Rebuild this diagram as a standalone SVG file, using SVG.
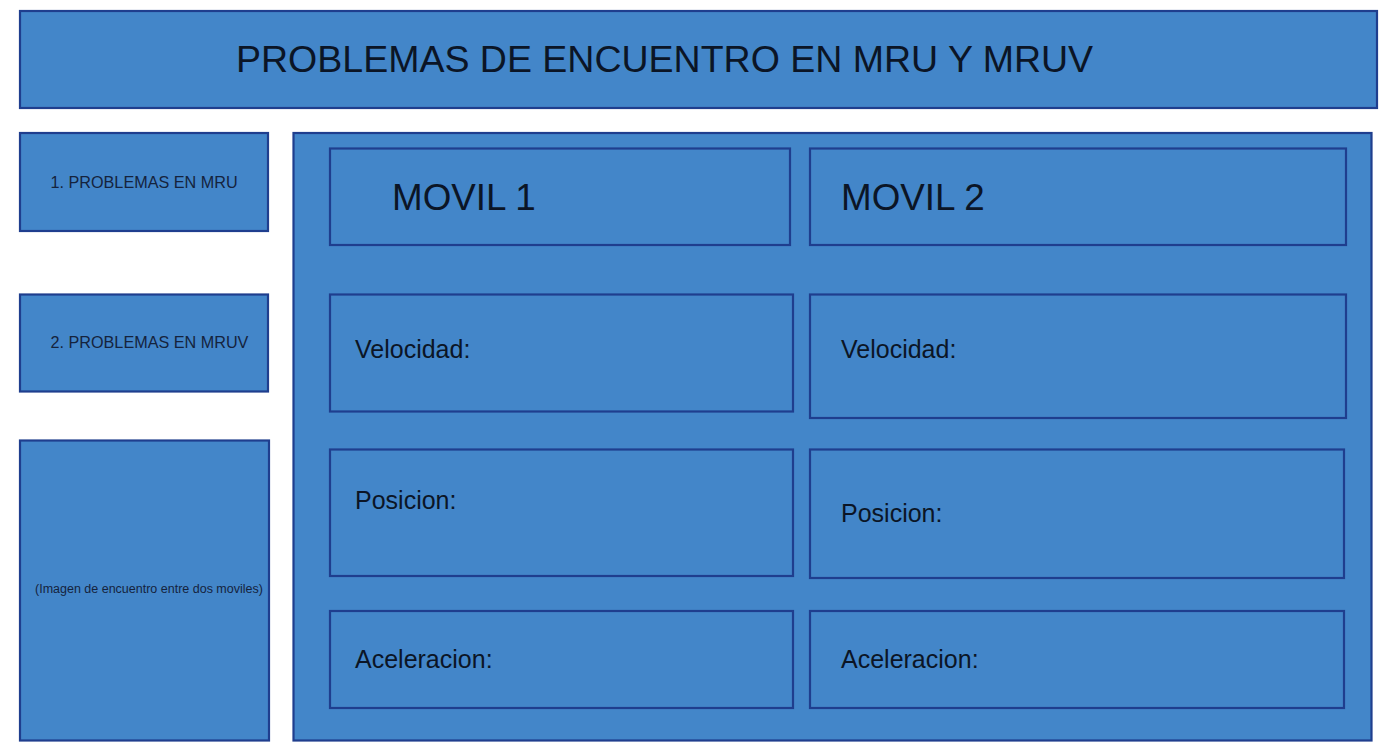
<svg xmlns="http://www.w3.org/2000/svg" width="1382" height="751" viewBox="0 0 1382 751">
<style>
.box{fill:#4386C9;stroke:#1F3E8E;stroke-width:2.2}
.t{font-family:"Liberation Sans",Arial,sans-serif;fill:#0b1526}
.s{font-family:"Liberation Sans",Arial,sans-serif;fill:#15233d}
.l{font-size:25px}
</style>
<rect width="1382" height="751" fill="#ffffff"/>
<g id="title"><rect class="box" x="20" y="11" width="1357" height="97"/><text class="t" x="236" y="72" font-size="37.5">PROBLEMAS DE ENCUENTRO EN MRU Y MRUV</text></g>
<g id="mru"><rect class="box" x="20" y="133" width="248" height="98"/><text class="s" x="50.5" y="188" font-size="16.2">1. PROBLEMAS EN MRU</text></g>
<g id="mruv"><rect class="box" x="20" y="294.5" width="248" height="97"/><text class="s" x="50.5" y="348" font-size="16.2">2. PROBLEMAS EN MRUV</text></g>
<g id="imagen"><rect class="box" x="20" y="440.5" width="249" height="300"/><text class="s" x="35" y="593" font-size="12.5">(Imagen de encuentro entre dos moviles)</text></g>
<g id="panel"><rect class="box" x="293.5" y="133" width="1078" height="607.5"/></g>
<g id="movil1"><rect class="box" x="330" y="148.5" width="460" height="96.5"/><text class="t" x="392" y="210" font-size="36.8">MOVIL 1</text></g>
<g id="movil2"><rect class="box" x="810" y="148.5" width="536" height="96.5"/><text class="t" x="841" y="210" font-size="36.8">MOVIL 2</text></g>
<g id="vel1"><rect class="box" x="330" y="294.5" width="463" height="117"/><text class="t l" x="355" y="358">Velocidad:</text></g>
<g id="vel2"><rect class="box" x="810" y="294.5" width="536" height="123.5"/><text class="t l" x="841" y="358">Velocidad:</text></g>
<g id="pos1"><rect class="box" x="330" y="449.5" width="463" height="126.5"/><text class="t l" x="355" y="509">Posicion:</text></g>
<g id="pos2"><rect class="box" x="810" y="449.5" width="534" height="128.5"/><text class="t l" x="841" y="522">Posicion:</text></g>
<g id="acel1"><rect class="box" x="330" y="611" width="463" height="97"/><text class="t l" x="355" y="668">Aceleracion:</text></g>
<g id="acel2"><rect class="box" x="810" y="611" width="534" height="97"/><text class="t l" x="841" y="668">Aceleracion:</text></g>
<g id="connectors"></g>
</svg>
